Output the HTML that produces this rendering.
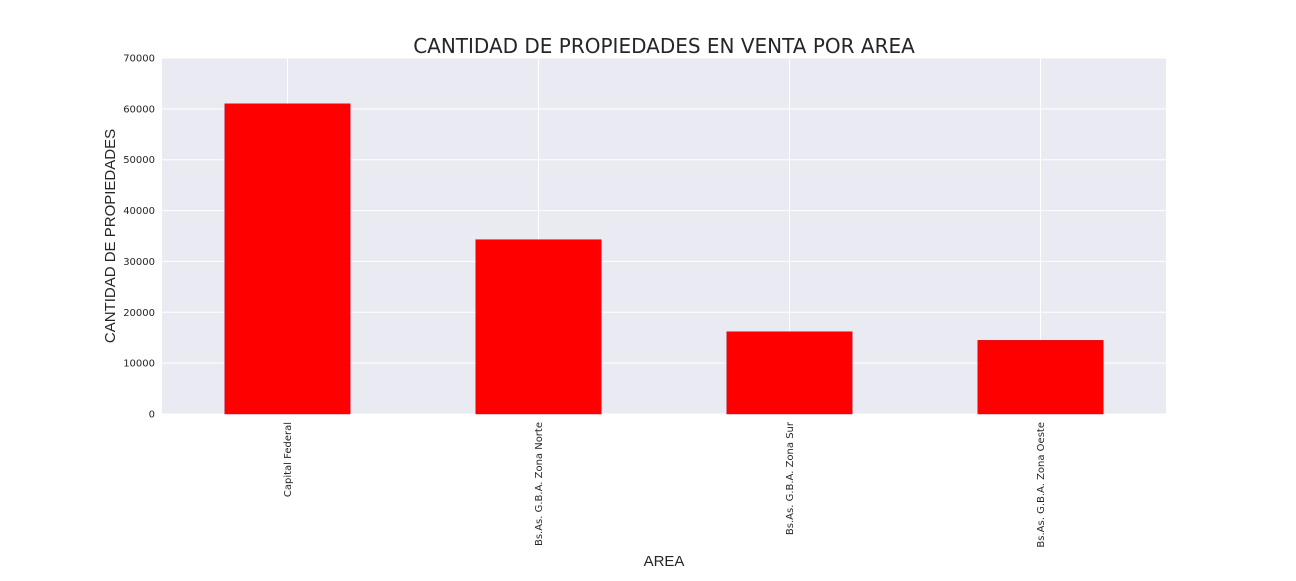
<!DOCTYPE html>
<html><head><meta charset="utf-8"><style>
body{margin:0;background:#fff;font-family:"Liberation Sans",sans-serif}
</style></head><body>
<svg id="c" width="1296" height="576" xmlns="http://www.w3.org/2000/svg"></svg>
<script>
const categories=["Capital Federal","Bs.As. G.B.A. Zona Norte","Bs.As. G.B.A. Zona Sur","Bs.As. G.B.A. Zona Oeste"];
const values=[61000,34280,16180,14490];
const yTicks=[0,10000,20000,30000,40000,50000,60000,70000];
const svg=document.getElementById('c');const NS='http://www.w3.org/2000/svg';
const L=162,R=1166,T=58,B=414,ymax=70000;
const y=v=>B-(v/ymax)*(B-T);
const band=(R-L)/categories.length;
const x=i=>L+band*(i+0.5);
const DV='"DejaVu Sans",sans-serif';
function mk(t,a,p){const e=document.createElementNS(NS,t);for(const k in a)e.setAttribute(k,a[k]);(p||svg).appendChild(e);return e;}
const bg=mk('rect',{x:L,y:T,width:R-L,height:B-T,fill:'#eaeaf2'});


yTicks.forEach(v=>{
 const g=mk('line',{x1:L,x2:R,y1:y(v),y2:y(v),stroke:'#fff','stroke-width':1});
 
 
 const t=mk('text',{x:L-7,y:y(v)+3.5,'text-anchor':'end','font-size':10,fill:'#262626','font-family':DV});
 t.textContent=v;
 
 
});
categories.forEach((c,i)=>{
 const g=mk('line',{x1:x(i),x2:x(i),y1:T,y2:B,stroke:'#fff','stroke-width':1});
 
 
});
categories.forEach((c,i)=>{
 const w=band*0.5;
 const r=mk('rect',{x:x(i)-w/2,y:y(values[i]),width:w,height:B-y(values[i]),fill:'#ff0000',stroke:'#c8102e','stroke-width':0.5});
 
 
 const t=mk('text',{transform:`translate(${x(i)+3.5},${B+8}) rotate(-90)`,'text-anchor':'end','font-size':10,fill:'#262626','font-family':DV});
 t.textContent=c;
 
 
});
const ti=mk('text',{x:664,y:53,'text-anchor':'middle','font-size':20,fill:'#262626','font-family':DV});
ti.textContent='CANTIDAD DE PROPIEDADES EN VENTA POR AREA';


const xl=mk('text',{x:664,y:566,'text-anchor':'middle','font-size':15,fill:'#262626'});
xl.textContent='AREA';


const yl=mk('text',{transform:'translate(115,236) rotate(-90)','text-anchor':'middle','font-size':15,fill:'#262626'});
yl.textContent='CANTIDAD DE PROPIEDADES';


</script>
</body></html>
